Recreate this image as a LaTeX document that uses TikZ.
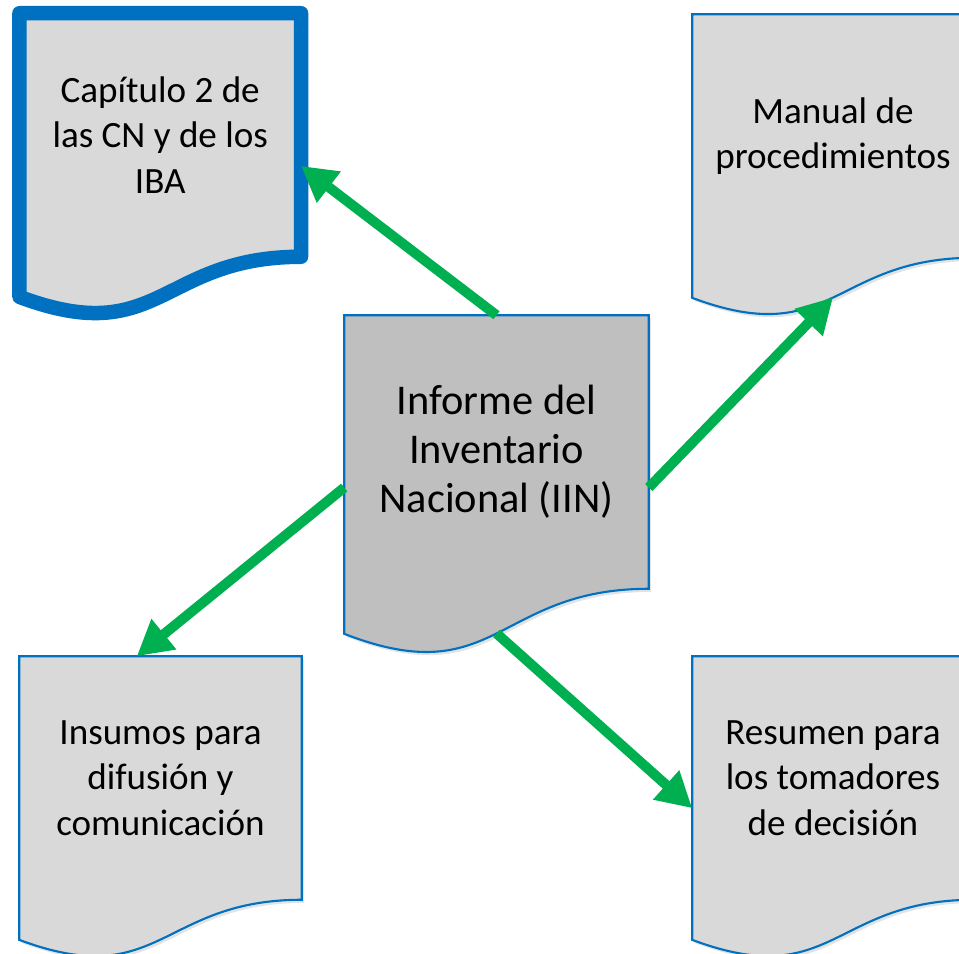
\documentclass[tikz,border=0pt]{standalone}
\usepackage{fontspec}
\setmainfont{Carlito}
\usetikzlibrary{arrows.meta,calc,backgrounds,shadows}

\definecolor{docblue}{HTML}{0070C0}
\definecolor{docgray}{HTML}{D9D9D9}
\definecolor{maingray}{HTML}{BFBFBF}
\definecolor{arrowgreen}{HTML}{00B050}

% document outline with wavy bottom around a named node
\newcommand{\drawdoc}[2][]{%
  \path[docline,#1] (#2.north west) -- (#2.north east) -- (#2.south east)
    .. controls (#2.south) and ($(#2.south)!-0.381!(#2.north)$)
    .. ($(#2.south west)!-0.1646!(#2.north west)$) -- cycle;}

\begin{document}
\begin{tikzpicture}[x=0.01cm, y=-0.01cm,
  docbox/.style={minimum width=2.8cm, minimum height=2.42cm, align=center,
    inner sep=0pt, font=\fontsize{10.55}{12.9}\selectfont},
  docline/.style={draw=docblue, line width=0.6pt, fill=docgray,
    drop shadow={opacity=0.22, shadow xshift=0.7pt, shadow yshift=-0.9pt}},
  flowarrow/.style={arrowgreen, line width=0.1cm,
    -{Triangle[length=0.35cm, width=0.37cm]}}]
\useasboundingbox (0,0) rectangle (959,954);
\clip (0,0) rectangle (959,954);

% Documents
\node[docbox] (cap) at (160.25,135) {Capítulo 2 de\\las CN y de los\\IBA};
\node[docbox] (man) at (833,136) {Manual de\\procedimientos};
\node[docbox, minimum width=3.03cm, minimum height=2.72cm,
  font=\fontsize{12.05}{13.9}\selectfont] (iin) at (496.5,452)
  {Informe del\\Inventario\\Nacional (IIN)};
\node[docbox, minimum width=2.81cm] (ins) at (160.5,778) {Insumos para\\difusión y\\comunicación};
\node[docbox] (res) at (833,778) {Resumen para\\los tomadores\\de decisión};

\begin{scope}[on background layer]
\drawdoc[line width=0.145cm, line join=round]{cap}
\drawdoc{man}
\drawdoc[fill=maingray]{iin}
\drawdoc{ins}
\drawdoc{res}
\end{scope}

% Arrows
\draw[flowarrow] (iin.north) -- ($(cap.north east)!0.627!(cap.south east)$);
\draw[flowarrow] ($(iin.north east)!0.63!(iin.south east)$) -- ($(man.south)!-0.163!(man.north)$);
\draw[flowarrow] ($(iin.north west)!0.63!(iin.south west)$) -- ($(ins.north west)!0.416!(ins.north east)$);
\draw[flowarrow] ($(iin.south)!-0.163!(iin.north)$) -- ($(res.north west)!0.624!(res.south west)$);
\end{tikzpicture}
\end{document}
